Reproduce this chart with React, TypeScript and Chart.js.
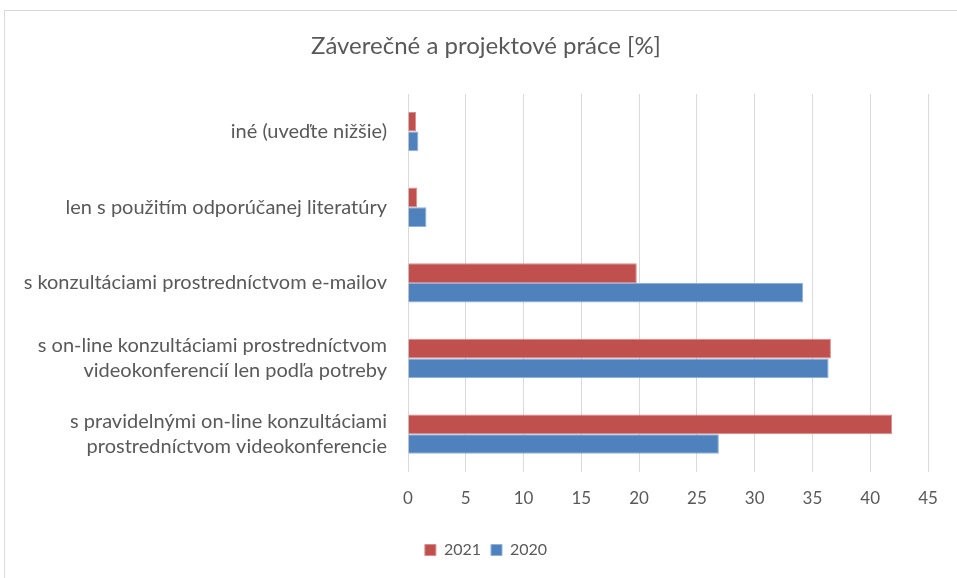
import React, { useEffect, useRef } from "react";
import { Chart, registerables } from "chart.js";

Chart.register(...registerables);

const TITLE = "Záverečné a projektové práce [%]";
const categories: (string | string[])[] = [
  "iné (uveďte nižšie)",
  "len s použitím odporúčanej literatúry",
  "s konzultáciami prostredníctvom e-mailov",
  ["s on-line konzultáciami prostredníctvom", "videokonferencií len podľa potreby"],
  ["s pravidelnými on-line konzultáciami", "prostredníctvom videokonferencie"],
];
const series2021 = [0.7, 0.8, 19.8, 36.6, 41.9];
const series2020 = [0.9, 1.6, 34.2, 36.4, 26.9];
const xTicksMax = 45;
const xTickStep = 5;

const FONT = "Lato, 'Liberation Sans', sans-serif";
const TEXT = "#595959";
const PAD_LEFT = 15;

export default function App() {
  const ref = useRef<HTMLCanvasElement | null>(null);
  useEffect(() => {
    if (!ref.current) return;
    const chart = new Chart(ref.current, {
      type: "bar",
      data: {
        labels: categories,
        datasets: [
          { label: "2021", data: series2021, backgroundColor: "#C0504D", borderColor: "#D98C8A", borderWidth: 1 },
          { label: "2020", data: series2020, backgroundColor: "#4F81BD", borderColor: "#8FB0D8", borderWidth: 1 },
        ],
      },
      options: {
        indexAxis: "y",
        animation: false,
        responsive: false,
        maintainAspectRatio: false,
        layout: { padding: { left: PAD_LEFT, right: 0, top: 0, bottom: 10 } },
        datasets: { bar: { categoryPercentage: 0.52, barPercentage: 1 } },
        plugins: {
          title: {
            display: true,
            text: TITLE,
            color: TEXT,
            font: { family: FONT, size: 24, weight: "normal" },
            padding: { top: 32, bottom: 33 },
          },
          legend: {
            position: "bottom",
            labels: {
              color: TEXT,
              font: { family: FONT, size: 16 },
              boxWidth: 11,
              boxHeight: 11,
              padding: 10,
            },
          },
          tooltip: { enabled: false },
        },
        scales: {
          x: {
            min: 0,
            max: xTicksMax,
            ticks: { stepSize: xTickStep, color: TEXT, font: { family: FONT, size: 17 }, padding: 16 },
            grid: { color: "#d9d9d9", lineWidth: 1, drawTicks: false },
            border: { display: false },
            afterFit: (s: any) => { s.height = 60; },
          },
          y: {
            ticks: { color: TEXT, font: { family: FONT, size: 20, lineHeight: 1.25 }, padding: 13 },
            grid: { display: false },
            border: { display: false },
            afterFit: (s: any) => { s.width = 408 - PAD_LEFT; },
          },
          yRight: {
            type: "linear",
            axis: "y",
            position: "right",
            display: true,
            ticks: { display: false },
            grid: { display: false },
            border: { display: false },
            afterFit: (s: any) => { s.width = 29; },
          },
        },
      },
    });
    return () => chart.destroy();
  }, []);
  return (
    <div style={{ position: "fixed", left: 0, top: 0, width: 957, height: 578, background: "#fff" }}>
      <div style={{ position: "absolute", left: 4, top: 10, width: 960, height: 580, border: "1px solid #d9d9d9", boxSizing: "border-box" }} />
      <canvas ref={ref} width={957} height={578} style={{ position: "absolute", left: 0, top: 0 }} />
    </div>
  );
}
